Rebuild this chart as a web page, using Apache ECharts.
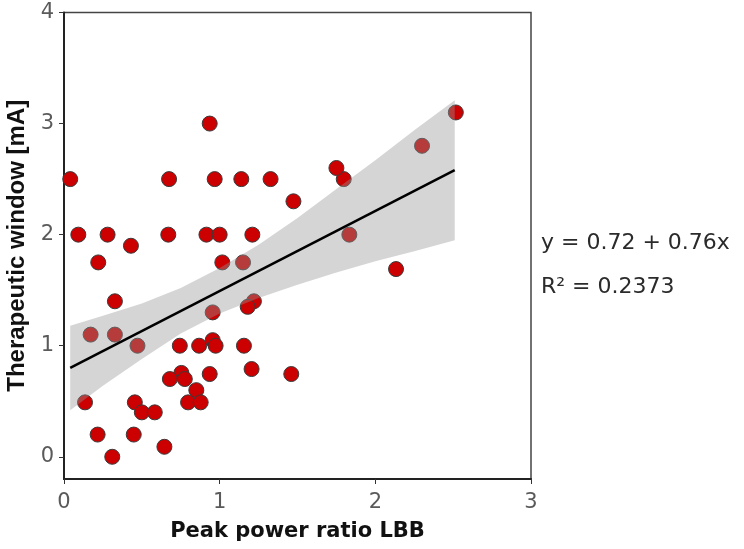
<!DOCTYPE html>
<html>
<head>
<meta charset="utf-8">
<script src="https://cdn.jsdelivr.net/npm/echarts@6/dist/echarts.min.js"></script>
<style>
  html, body { margin: 0; padding: 0; background: #fff; }
  #main { width: 744px; height: 549px; }
</style>
</head>
<body>
<div id="main"></div>
<script>
var chart = echarts.init(document.getElementById('main'));

// points
var pointX = [0.04, 0.675, 0.968, 1.139, 1.327, 1.797, 1.75, 0.936, 1.474, 2.30, 2.517,
    0.092, 0.28, 0.67, 0.915, 1.0, 1.21, 1.833, 0.43, 0.22, 1.017, 1.15, 2.133,
    0.327, 1.22, 1.18, 0.955, 0.171, 0.327, 0.472, 0.744, 0.868, 0.955, 0.974, 1.156,
    1.205, 0.936, 1.46, 0.754, 0.68, 0.776, 0.85, 0.135, 0.455, 0.797, 0.878,
    0.50, 0.583, 0.216, 0.448, 0.645, 0.31];
var pointY = [2.5, 2.5, 2.5, 2.5, 2.5, 2.5, 2.6, 3.0, 2.3, 2.8, 3.1,
    2.0, 2.0, 2.0, 2.0, 2.0, 2.0, 2.0, 1.9, 1.75, 1.75, 1.75, 1.69,
    1.4, 1.4, 1.35, 1.3, 1.1, 1.1, 1.0, 1.0, 1.0, 1.05, 1.0, 1.0,
    0.79, 0.745, 0.745, 0.755, 0.7, 0.7, 0.6, 0.49, 0.49, 0.49, 0.49,
    0.4, 0.4, 0.2, 0.2, 0.09, 0.0];

// fitted line and its grey band
var fitX = [0.04, 2.51];
var fitY = [0.80, 2.58];
var bandX = [0.04, 0.25, 0.5, 0.75, 1.0, 1.25, 1.5, 1.75, 2.0, 2.25, 2.51];
var bandUpper = [1.18, 1.27, 1.38, 1.52, 1.70, 1.91, 2.15, 2.41, 2.67, 2.94, 3.21];
var bandLower = [0.42, 0.64, 0.88, 1.11, 1.29, 1.43, 1.55, 1.66, 1.76, 1.85, 1.95];

var yTicks = [0, 1, 2, 3, 4];
var eqText = 'y = 0.72 + 0.76x';
var r2Text = 'R\u00b2 = 0.2373';

var points = pointX.map(function (x, i) { return [x, pointY[i]]; });
var fitLine = fitX.map(function (x, i) { return [x, fitY[i]]; });

var labelStyle = { color: '#5a5a5a', fontSize: 21, fontFamily: 'DejaVu Sans' };

function renderBand(params, api) {
    var poly = [];
    for (var i = 0; i < bandX.length; i++) {
        poly.push(api.coord([bandX[i], bandUpper[i]]));
    }
    for (var j = bandX.length - 1; j >= 0; j--) {
        poly.push(api.coord([bandX[j], bandLower[j]]));
    }
    return {
        type: 'polygon',
        shape: { points: poly },
        style: { fill: 'rgba(150,150,150,0.4)' }
    };
}

option = {
    animation: false,
    grid: {
        left: 64,
        right: 213,
        top: 12.5,
        bottom: 70,
        outerBoundsMode: 'none',
        show: true,
        borderColor: '#444',
        borderWidth: 1.5
    },
    xAxis: {
        type: 'value',
        min: 0,
        max: 3,
        interval: 1,
        name: 'Peak power ratio LBB',
        nameLocation: 'middle',
        nameGap: 42,
        nameTextStyle: { color: '#111', fontSize: 21, fontWeight: 'bold', fontFamily: 'DejaVu Sans' },
        splitLine: { show: false },
        axisLine: { onZero: false, lineStyle: { color: '#222', width: 2 } },
        axisTick: { length: 5, lineStyle: { color: '#333' } },
        axisLabel: Object.assign({ margin: 13 }, labelStyle)
    },
    yAxis: {
        type: 'value',
        min: -0.2,
        max: 4,
        name: 'Therapeutic window [mA]',
        nameLocation: 'middle',
        nameGap: 26,
        nameTextStyle: { color: '#111', fontSize: 24, fontWeight: 'bold', fontFamily: 'Liberation Sans' },
        splitLine: { show: false },
        axisLine: { show: true, onZero: false, lineStyle: { color: '#222', width: 2 } },
        axisTick: { show: true, length: 5, customValues: yTicks, lineStyle: { color: '#333' } },
        axisLabel: Object.assign({ margin: 10, customValues: yTicks }, labelStyle)
    },
    graphic: [
        {
            type: 'text', left: 541, top: 232,
            style: { text: eqText, fill: '#2b2b2b', font: '22px "DejaVu Sans"' }
        },
        {
            type: 'text', left: 541, top: 276,
            style: { text: r2Text, fill: '#2b2b2b', font: '22px "DejaVu Sans"' }
        }
    ],
    series: [
        {
            name: 'points',
            type: 'scatter',
            data: points,
            symbolSize: 15,
            z: 2,
            itemStyle: { color: '#cc0000', borderColor: '#3a3a3a', borderWidth: 1, opacity: 1 }
        },
        {
            name: 'band',
            type: 'custom',
            data: [0],
            renderItem: renderBand,
            z: 3,
            silent: true
        },
        {
            name: 'fit',
            type: 'line',
            data: fitLine,
            symbol: 'none',
            z: 4,
            lineStyle: { color: '#000', width: 2.5 }
        }
    ]
};

chart.setOption(option);
</script>
</body>
</html>
